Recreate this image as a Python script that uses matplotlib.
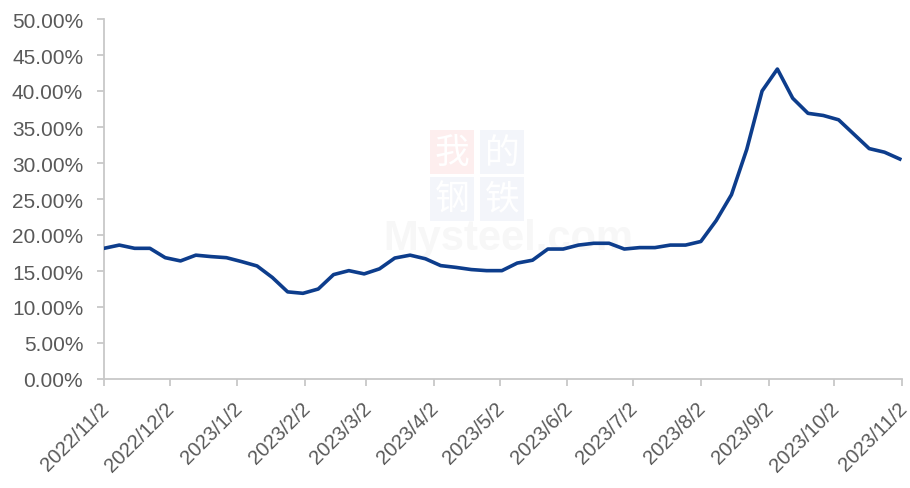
import matplotlib
matplotlib.use("Agg")
import matplotlib.pyplot as plt
import matplotlib.transforms as mtransforms
import pandas as pd
from matplotlib.ticker import FuncFormatter, MultipleLocator

# weekly readings, 2022/11/2 .. 2023/11/1 (percent)
start_date = "2022-11-02"
n_weeks = 53
rate = [
    18.15, 18.6, 18.15, 18.15, 16.85, 16.4, 17.2, 17.0, 16.85, 16.3,
    15.7, 14.1, 12.1, 11.9, 12.5, 14.5, 15.05, 14.6, 15.3, 16.8,
    17.2, 16.7, 15.75, 15.5, 15.2, 15.05, 15.05, 16.1, 16.5, 18.05,
    18.05, 18.6, 18.85, 18.85, 18.05, 18.25, 18.25, 18.6, 18.6, 19.1,
    22.0, 25.6, 31.9, 40.0, 43.05, 39.0, 36.9, 36.6, 36.0, 34.0,
    32.0, 31.5, 30.55,
]
# month ticks on the 2nd
tick_dates = pd.date_range("2022-11-01", "2023-11-01", freq="MS") + pd.Timedelta(days=1)

dates = pd.date_range(start_date, periods=n_weeks, freq="7D")
grey = "#595959"
axis_col = "#c8c8c8"

plt.rcParams["font.family"] = ["Liberation Sans", "DejaVu Sans"]
fig = plt.figure(figsize=(9.1, 4.89), dpi=100)
ax = fig.add_axes([104 / 910, 1 - 380 / 489, 798 / 910, 360 / 489])
ax.set_zorder(2)
ax.set_facecolor("none")

# faint watermark (behind the axes)
wm = ["Noto Sans CJK SC", "DejaVu Sans"]
for txt, (x, y), fc in [("我", (452, 153), "#fdeeee"), ("的", (502, 153), "#f3f5fa"),
                        ("钢", (452, 200), "#f3f5fa"), ("铁", (502, 200), "#f3f5fa")]:
    fig.text(x / 910, 1 - y / 489, txt, ha="center", va="center", fontsize=25,
             color="white", family=wm, zorder=0,
             bbox=dict(boxstyle="square,pad=0.14", fc=fc, ec="none"))
fig.text(508 / 910, 1 - 250 / 489, "Mysteel.com", ha="center", va="baseline",
         fontsize=30, fontweight="bold", color="#f7f7f7", zorder=0)

ax.plot(dates, rate, color="#0d3d8c", lw=2.6, solid_joinstyle="round", zorder=3)

ax.set_xlim(pd.Timestamp("2022-11-02"), pd.Timestamp("2023-11-02"))
ax.set_ylim(0, 50)
ax.yaxis.set_major_locator(MultipleLocator(5))
ax.yaxis.set_major_formatter(FuncFormatter(lambda v, _: f"{v:.2f}%"))
ax.set_xticks(tick_dates)
ax.set_xticklabels([f"{d.year}/{d.month}/{d.day}" for d in tick_dates],
                   rotation=45, ha="right", rotation_mode="anchor")

for s in ["top", "right"]:
    ax.spines[s].set_visible(False)
for s in ["left", "bottom"]:
    ax.spines[s].set_color(axis_col)
    ax.spines[s].set_linewidth(1.3)
ax.tick_params(axis="both", colors=axis_col, labelcolor=grey,
               length=5, width=1.3)
ax.tick_params(axis="y", labelsize=15, pad=10)
ax.tick_params(axis="x", labelsize=14.5, pad=9)

# pull the rotated date labels a few pixels left so the last one stays inside
shift = mtransforms.ScaledTranslation(-5 / 100, 0, fig.dpi_scale_trans)
for lab in ax.get_xticklabels():
    lab.set_transform(lab.get_transform() + shift)

fig.savefig("out.png", dpi=100)
